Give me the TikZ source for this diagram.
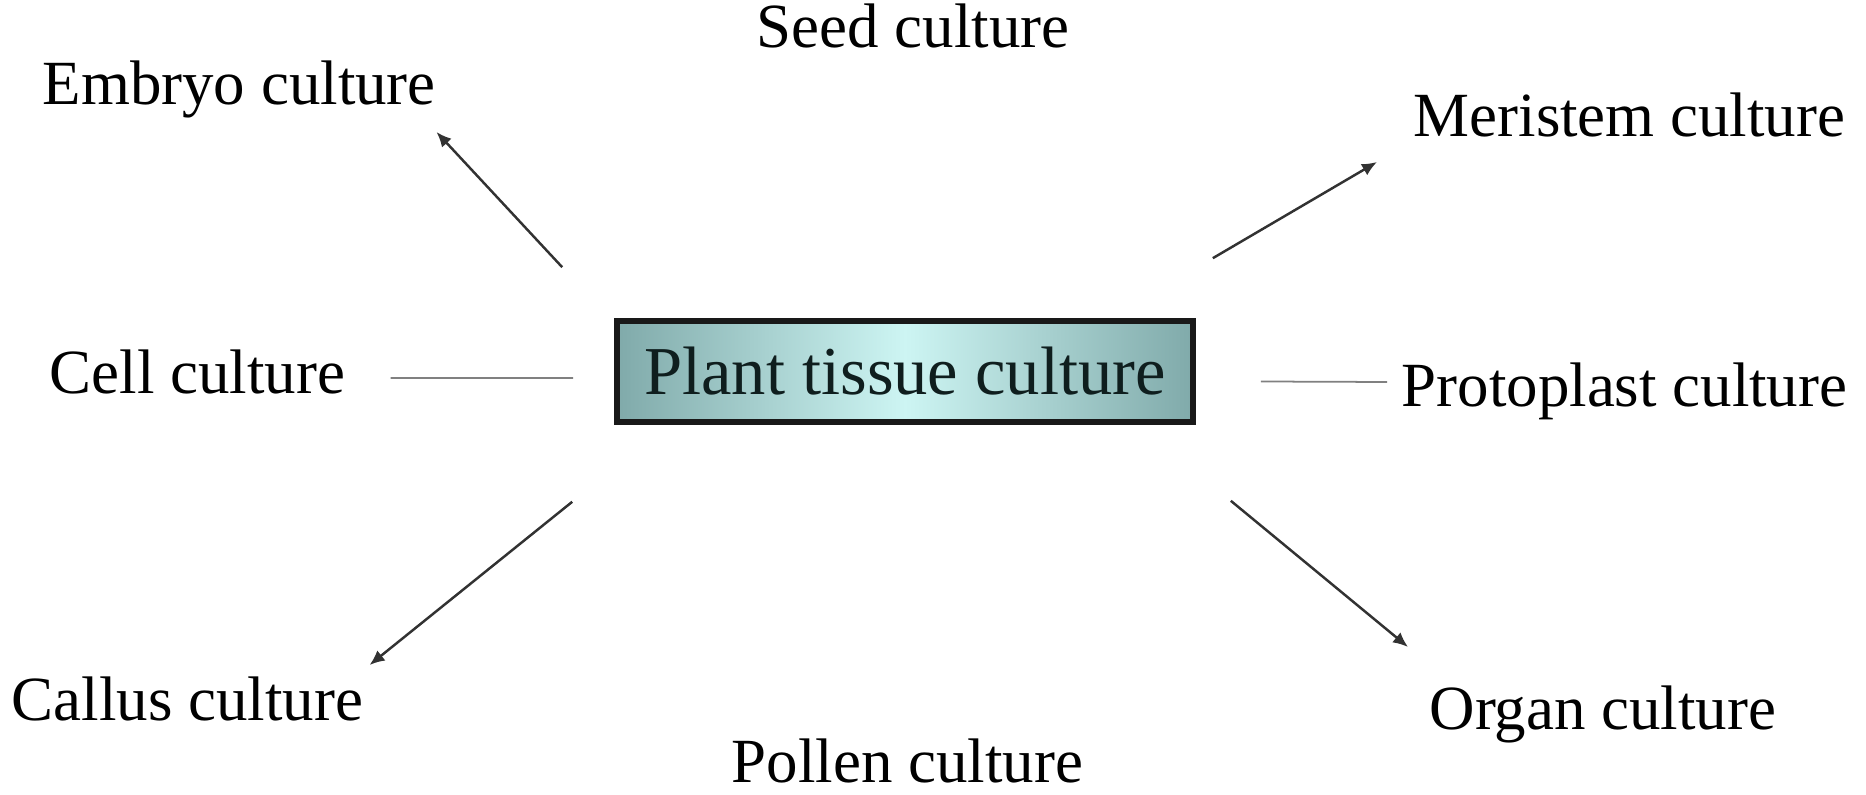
\documentclass[tikz,border=0pt]{standalone}
\usepackage{fontspec}
\setmainfont{Liberation Serif}
\usepackage{xcolor}
\usepackage{tikz}
\usetikzlibrary{arrows.meta}

\definecolor{boxedge}{RGB}{128,170,170}
\definecolor{boxmid}{RGB}{205,245,243}
\definecolor{boxtext}{RGB}{15,30,30}
\definecolor{branchgray}{RGB}{50,50,50}

\tikzset{
  culture/.style={inner sep=0pt, anchor=base west, font=\fontsize{17.9}{20}\selectfont},
  mainbox/.style={draw=black!90, line width=1.6pt, minimum width=5.76cm, minimum height=1.01cm,
    left color=boxedge, right color=boxedge, middle color=boxmid, text=boxtext,
    font=\fontsize{19.5}{22}\selectfont},
  branch/.style={draw=branchgray, line width=0.7pt, -{Latex[length=1.5mm,width=1.3mm]}},
  link/.style={draw=black!50, line width=0.5pt}
}

\begin{document}
\begin{tikzpicture}
\useasboundingbox (0,0) rectangle (18.66,7.94);
% centre
\node[mainbox] (ptc) at (9.05,4.225) {Plant tissue culture};
% kinds of culture
\node[culture] (seed) at (7.56,7.46) {Seed culture};
\node[culture] (embryo) at (0.42,6.89) {Embryo culture};
\node[culture] (meristem) at (14.13,6.57) {Meristem culture};
\node[culture] (cell) at (0.49,4.00) {Cell culture};
\node[culture] (protoplast) at (14.01,3.87) {Protoplast culture};
\node[culture] (callus) at (0.11,0.74) {Callus culture};
\node[culture] (organ) at (14.29,0.65) {Organ culture};
\node[culture] (pollen) at (7.31,0.12) {Pollen culture};
% arrows
\draw[branch] ([shift={(-0.52,0.51)}]ptc.north west) -- ([shift={(0.0,-0.27)}]embryo.base east);
\draw[branch] ([shift={(0.17,0.60)}]ptc.north east) -- ([shift={(-0.36,-0.25)}]meristem.base west);
\draw[branch] ([shift={(-0.42,-0.77)}]ptc.south west) -- ([shift={(0.06,0.55)}]callus.base east);
\draw[branch] ([shift={(0.35,-0.76)}]ptc.south east) -- ([shift={(-0.21,0.82)}]organ.base west);
% plain lines
\draw[link] ([shift={(-0.41,-0.065)}]ptc.west) -- ([shift={(0.45,0.16)}]cell.base east);
\draw[link] ([shift={(0.65,-0.10)}]ptc.east) -- ([shift={(-0.14,0.25)}]protoplast.base west);
\end{tikzpicture}
\end{document}
